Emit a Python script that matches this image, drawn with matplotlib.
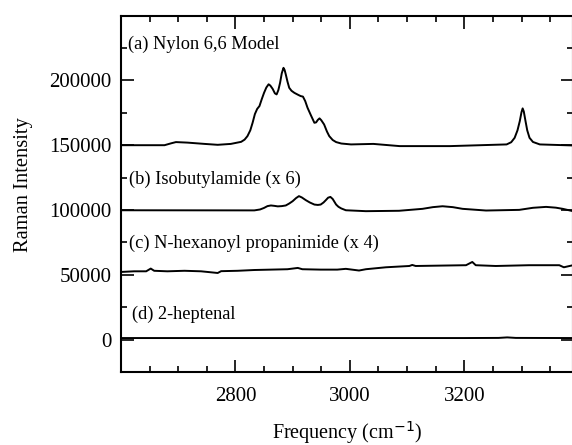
import numpy as np
import matplotlib
matplotlib.use('Agg')
import matplotlib.pyplot as plt
from matplotlib.ticker import MultipleLocator

# (a) Nylon 6,6 model spectrum
freq_a = [2600, 2676, 2688, 2696, 2716, 2746, 2769, 2792, 2810, 2816, 2821, 2826,
          2830, 2834, 2838, 2842, 2846, 2850, 2854, 2858, 2861, 2865, 2869, 2872,
          2875, 2878, 2881, 2884, 2886, 2888, 2891, 2894, 2898, 2903, 2909, 2914,
          2918, 2922, 2926, 2932, 2938, 2941, 2944, 2947, 2950, 2955, 2960, 2964,
          2970, 2976, 2985, 3002, 3041, 3087, 3175, 3274, 3282, 3288, 3293, 3297,
          3300, 3302, 3304, 3307, 3310, 3314, 3320, 3332, 3390]
int_a = [150000, 150000, 151500, 152400, 152000, 151000, 150300, 151000, 152600,
         154300, 157000, 161500, 167300, 174000, 178000, 180200, 185500, 190400,
         194500, 197000, 196000, 193500, 190000, 189200, 192500, 198100, 205500,
         209700, 208000, 204600, 199000, 194300, 192000, 190400, 189000, 187900,
         187500, 184000, 178900, 173000, 167300, 167600, 169500, 170700, 169300,
         166000, 160500, 157000, 154000, 152400, 151300, 150600, 151000, 149300,
         149300, 150600, 152300, 155700, 161500, 168600, 175500, 178400, 176000,
         168600, 161500, 155700, 152500, 150600, 149800]

# (b) Isobutylamide (x 6)
freq_b = [2600, 2833, 2843, 2850, 2856, 2862, 2868, 2874, 2881, 2888, 2894, 2900,
          2906, 2911, 2916, 2923, 2930, 2938, 2944, 2949, 2954, 2958, 2962, 2966,
          2970, 2976, 2980, 2985, 2993, 3028, 3086, 3127, 3145, 3162, 3180, 3197,
          3238, 3296, 3320, 3343, 3360, 3372, 3390]
int_b = [99800, 99700, 100400, 101600, 103000, 103500, 103200, 102800, 103000,
         103500, 105000, 106800, 109200, 110700, 109700, 107600, 105800, 104200,
         103900, 104200, 105800, 107600, 109500, 110100, 108500, 104200, 102500,
         101200, 99800, 99100, 99400, 100900, 102200, 102900, 102200, 100900,
         99600, 100100, 101700, 102400, 101800, 100900, 99100]

# (c) N-hexanoyl propanimide (x 4)
freq_c = [2600, 2623, 2644, 2652, 2658, 2681, 2711, 2740, 2769, 2775, 2804, 2833,
          2862, 2891, 2909, 2917, 2949, 2978, 2993, 3016, 3028, 3063, 3104, 3109,
          3115, 3203, 3214, 3220, 3255, 3313, 3366, 3374, 3390]
int_c = [52200, 52700, 52700, 54800, 53100, 52700, 53100, 52700, 51400, 52800,
         53100, 53700, 54000, 54300, 55300, 54300, 54000, 54000, 54600, 53300,
         54300, 55800, 56800, 57600, 56800, 57400, 59900, 57400, 56800, 57400,
         57400, 55800, 57400]

# (d) 2-heptenal
freq_d = [2600, 2800, 3000, 3200, 3260, 3275, 3290, 3390]
int_d = [1200, 1200, 1200, 1200, 1300, 1700, 1300, 1200]

labels = ['(a) Nylon 6,6 Model', '(b) Isobutylamide (x 6)',
          '(c) N-hexanoyl propanimide (x 4)', '(d) 2-heptenal']
label_x = [2613, 2614, 2614, 2620]
label_y = [228000, 123800, 74600, 19300]

xticks = [2800, 3000, 3200]
yticks = [0, 50000, 100000, 150000, 200000]

plt.rcParams['font.family'] = ['Liberation Serif', 'DejaVu Serif']

fig = plt.figure(figsize=(5.72, 4.45), dpi=100)
ax = fig.add_axes([121 / 572, 1 - 372 / 445, 452 / 572, (372 - 15.6) / 445])

for f, v in zip([freq_a, freq_b, freq_c, freq_d], [int_a, int_b, int_c, int_d]):
    ax.plot(f, v, color='black', lw=1.4)

for t, x, y in zip(labels, label_x, label_y):
    ax.text(x, y, t, fontsize=13.2, va='center', ha='left')

ax.set_xlim(2600, 3390)
ax.set_ylim(-25000, 250000)
ax.set_xticks(xticks)
ax.xaxis.set_minor_locator(MultipleLocator(50))
ax.set_yticks(yticks)
ax.yaxis.set_minor_locator(MultipleLocator(25000))
ax.tick_params(which='both', direction='in', top=True, right=True, width=1.2,
               labelsize=15)
ax.tick_params(axis='x', which='major', length=9, pad=11)
ax.tick_params(axis='y', which='major', length=9, pad=7)
ax.tick_params(which='minor', length=4.5)
for s in ax.spines.values():
    s.set_linewidth(1.5)

ax.set_xlabel('Frequency (cm$^{-1}$)', fontsize=14.5, labelpad=9)
ax.set_ylabel('Raman Intensity', fontsize=14.8)
ax.yaxis.set_label_coords(-0.194, 0.525)

plt.savefig('out.png', dpi=100)
